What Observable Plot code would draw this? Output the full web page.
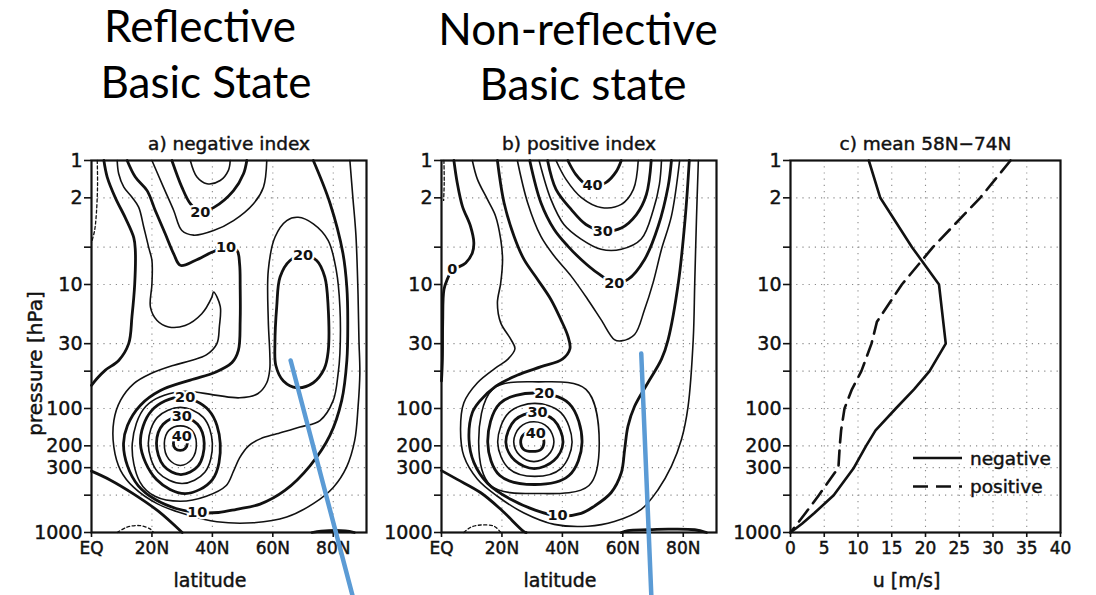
<!DOCTYPE html>
<html>
<head>
<meta charset="utf-8">
<script src="https://cdn.jsdelivr.net/npm/d3@7"></script>
<script src="https://cdn.jsdelivr.net/npm/@observablehq/plot@0.6"></script>
<style>
  body { margin: 0; background: #fff; }
  #fig { position: relative; width: 1096px; height: 595px; overflow: hidden; background: #fff; }
  .panel { position: absolute; top: 0; }
  #heads { position: absolute; left: 0; top: 0; }
  /* slightly heavier lettering for the axis tick labels */
  .panel g[aria-label$="tick label"] text { stroke: #111; stroke-width: 0.45px; }
</style>
</head>
<body>
<div id="fig"></div>
<script>
// ---------- axes ----------
const pressureTicks = [1, 2, 5, 10, 30, 50, 100, 200, 300, 500, 1000];
const pressureGrid = [2, 5, 10, 30, 50, 100, 200, 300, 500];
const latitudeTicks = [0, 20, 40, 60, 80];
const latitudeTickLabels = ["EQ", "20N", "40N", "60N", "80N"];
const latitudeGrid = [20, 40, 60, 80];
const speedTicks = [0, 5, 10, 15, 20, 25, 30, 35, 40];
const speedGrid = [5, 10, 15, 20, 25, 30, 35];

// ---------- a) negative index: zonal-mean u contours, [latitude, pressure] ----------
const negM5Top = [[1.9,1],[2.0,1.6],[1.6,2.7],[1.0,3.7],[0,4.6]];
const negM5Sfc = [[8.5,1000],[11.8,905],[16,880],[19.5,940],[20.5,1000]];
const negU0Upper = [[4.1,1],[5.2,1.36],[7.9,2],[11.2,2.9],[14,4.2],[14.5,5.3],[14.3,9.9],[13.4,18],[12.3,30],[9,41],[4.6,49],[1.9,57],[0,65]];
const negU0Lower = [[0,320],[6,375],[14,490],[22,670],[30,1000]];
const negU0Arctic = [[73,1000],[76,975],[84,970],[87,1000]];
const negU5 = [[8.5,1],[9,1.28],[10.7,1.64],[13.4,1.98],[15.6,2.38],[17.3,3.45],[18.9,5],[20,6.4],[20,9.9],[19.5,15.2],[21.7,19.5],[25.5,22],[31,21.4],[36.5,17.2],[39.8,12.7],[40.4,11.5],[42.6,15],[42.3,22],[41.5,30],[38,37],[33,41],[27,45],[19.5,52.5],[14,63],[9.6,86],[7.4,125],[7.4,205],[9.6,315],[14,433],[21.7,585],[31.6,720],[41.5,820],[53.6,835],[64.6,750],[73.4,585],[80,433],[84.4,297],[87.1,181],[88.2,98],[88.8,52],[88.5,28],[88.2,12],[87.5,4],[86.5,2],[85.5,1]];
const negU10 = [[11.8,1],[14.5,1.36],[18.4,1.75],[21.1,2.53],[24.4,3.9],[27.2,5.66],[29.4,7.0],[34.3,6.4],[39.8,5.5],[44.5,5.0],[48.1,5.3],[49,6.8],[49.2,10.5],[49.2,19.5],[48.6,34],[46.5,42.6],[41,51],[32.7,59],[22.8,71.6],[16.2,94],[11.9,137],[10.6,191],[11.9,290],[15.5,420],[21,540],[28,640],[35,690],[42,690],[48,650],[55.8,590],[64,458],[72.3,290],[78.9,165],[82.8,86],[84.5,41],[84.8,19.5],[84.5,10.6],[83.2,5.6],[78.9,2.2],[73.4,1]];
const negU15Top = [[20,1],[23.8,1.64],[27.2,2.53],[29.9,3.67],[33.8,4.0],[40.4,3.67],[47,3.05],[53.6,2.23],[56.9,1.64],[58,1]];
const negU20Top = [[26.6,1],[29.9,1.64],[32.7,2.23],[36,2.6],[40.4,2.4],[47,1.75],[50.3,1.28],[51.4,1]];
const negU25Top = [[32.7,1],[34.9,1.36],[38.2,1.54],[42.6,1.45],[45.3,1.2],[45.9,1]];
const negU20Polar = [[62.4,8.7],[61.3,15],[60.7,30],[61,45],[63.5,60],[68,68],[73.4,62],[77,48],[78.3,35],[78.3,15],[77.2,8.7],[74.5,6.4],[70,5.8],[65.7,6.4]];
const negU15Ring = [[59,36],[58.5,19.5],[58.5,7.7],[60.7,4.16],[64.6,3.05],[68.4,2.87],[73.4,3.24],[78.3,4.4],[81,7.7],[82.2,15.2],[82.2,36],[81.6,52.5],[80,86],[75.6,125],[69,141],[61.3,160],[56,175],[52,200],[49,250],[47,320],[44.5,420],[38,510],[29.4,560],[21,510],[16,390],[13.5,191],[18,96],[29.4,73],[40.9,78],[49,82],[55,76],[58,62],[59,48]];
const negU20Jet = [[16.2,191],[19.9,104],[29.4,81],[38.9,104],[42.6,191],[40,374],[31,485],[21.5,374]];
const negU25Jet = [[18.8,191],[21.8,118],[29.4,98],[37,118],[40,191],[37.5,327],[30,403],[22,327]];
const negU30Jet = [[21.5,191],[23.7,134],[29.4,116],[35.1,134],[37.3,191],[35.3,290],[29.6,341],[23.9,290]];
const negU35Jet = [[24.1,191],[25.6,150],[29.4,138],[33.2,150],[34.7,191],[33.2,257],[29.4,288],[25.6,257]];
const negU40Jet = [[27.1,191],[27.7,171],[29.4,165],[31,171],[31.7,191],[31,210],[29.4,218],[27.7,210]];

const negativeContours = [
  {u: -5, closed: false, pts: negM5Top},
  {u: -5, closed: false, pts: negM5Sfc},
  {u: 0, closed: false, pts: negU0Upper},
  {u: 0, closed: false, pts: negU0Lower},
  {u: 0, closed: false, pts: negU0Arctic},
  {u: 5, closed: false, pts: negU5},
  {u: 10, closed: false, pts: negU10},
  {u: 15, closed: false, pts: negU15Top},
  {u: 20, closed: false, pts: negU20Top},
  {u: 25, closed: false, pts: negU25Top},
  {u: 20, closed: true, pts: negU20Polar},
  {u: 15, closed: true, pts: negU15Ring},
  {u: 20, closed: true, pts: negU20Jet},
  {u: 25, closed: true, pts: negU25Jet},
  {u: 30, closed: true, pts: negU30Jet},
  {u: 35, closed: true, pts: negU35Jet},
  {u: 40, closed: true, pts: negU40Jet}
];
const negativeLabels = [
  {lat: 36, p: 2.6, text: "20"},
  {lat: 44.5, p: 5.0, text: "10"},
  {lat: 70, p: 5.8, text: "20"},
  {lat: 31, p: 81, text: "20"},
  {lat: 29.9, p: 116, text: "30"},
  {lat: 29.9, p: 168, text: "40"},
  {lat: 35, p: 690, text: "10"}
];

// ---------- b) positive index ----------
const posM5Top = [[0.8,1],[0.9,1.5],[0.7,2.1]];
const posM5Sfc = [[7.4,1000],[9.6,910],[13,870],[17.4,890],[19.6,1000]];
const posU0Upper = [[4.1,1],[5.2,1.51],[6.9,2.33],[9.6,3.39],[10.7,4.6],[10.2,5.56],[8,6.7],[5.2,7.3],[3.6,7.6],[1.9,9.1],[0.8,11],[0.4,20],[0.3,40],[0,60]];
const posU0Lower = [[0,317],[5.2,373],[13,478],[19.6,650],[27.3,985],[28,1000]];
const posU0Arctic = [[59.5,1000],[61.7,965],[68.3,950],[75,940],[83.8,950],[87.7,1000]];
const posU5 = [[10.2,1],[11.9,1.42],[15.2,2.06],[17.9,2.81],[19.6,4.33],[20.2,6.28],[19.6,9.7],[18.5,14.1],[19.6,20.4],[23,27.8],[24.3,33],[22,40],[18.5,46],[11.9,62],[7.4,90],[6.3,147],[7.4,242],[11.9,372],[18.5,510],[27.3,696],[37.3,860],[48.4,890],[57.2,815],[66.1,650],[71.7,450],[76.1,292],[79.4,178],[81.6,96],[83.3,27.8],[83.8,9.7],[84.4,2.8],[85,1]];
const posU10 = [[18.5,1],[20.7,2.19],[24,4.08],[27.3,6.28],[31.8,9.1],[36.2,13.2],[39.5,19.2],[41.8,26],[42.5,33],[40,40],[33,46],[25,54],[18,66],[12.5,88],[10.2,108],[9.1,178],[10.7,272],[15.2,400],[22.9,540],[31,660],[38.4,734],[46.2,700],[50.6,612],[56.1,478],[59.5,330],[60.6,215],[61.7,139],[63.9,96],[68.3,62],[72.8,40],[75,27.8],[78.4,9.6],[80.7,2.8],[82,1]];
const posU15Top = [[25.1,1],[28.5,2.19],[32.9,4.1],[37.3,5.9],[42.9,8.56],[48.4,13.2],[52.8,19.2],[57.2,27.8],[59.5,28.5],[63.9,25.3],[67.2,15.9],[70,9.7],[72.8,5.2],[76.1,2.8],[78.8,1]];
const posU20Top = [[29.2,1],[32.9,2.19],[37.3,3.6],[41.8,4.9],[46.2,6.28],[51.7,8.1],[57.2,9.7],[61.7,9.1],[67.2,6.28],[71.7,3.39],[75,1.61],[76.1,1]];
const posU25Top = [[32.3,1],[36.2,2.06],[40.5,3.28],[46.2,4.3],[52.8,5.2],[59.5,5.2],[66.1,4.3],[70.1,2.5],[72.1,1.56],[72.8,1]];
const posU30Top = [[35.1,1],[37.9,1.71],[42.9,2.48],[47.8,3.28],[53.4,3.7],[59.5,3.5],[64.5,2.73],[67.8,1.88],[69.4,1]];
const posU35Top = [[37.9,1],[41.2,1.42],[46.2,1.98],[52.8,2.39],[59.5,2.26],[63.5,1.71],[65.1,1]];
const posU40Top = [[41.8,1],[44.5,1.3],[47.8,1.56],[50.2,1.62],[54.5,1.5],[57.8,1.23],[59.5,1]];
const posU15Jet = [[12.3,188],[16.9,70],[32.2,61],[47.8,70],[52.2,188],[48.8,418],[32.2,485],[16.3,418]];
const posU20Jet = [[15.3,188],[19.3,91],[30.9,75],[42.2,91],[46.5,188],[42.2,347],[30.9,410],[19.3,347]];
const posU25Jet = [[18.6,188],[22.3,108],[30.9,91],[39.5,108],[43.2,188],[39.5,305],[30.9,353],[22.3,305]];
const posU30Jet = [[21.3,188],[24.3,124],[30.7,108],[37.2,124],[40.2,188],[37.2,263],[30.7,305],[24.3,263]];
const posU35Jet = [[23.9,185],[25.9,142],[30.6,128],[35.2,142],[37.2,185],[35.2,239],[30.6,268],[25.9,239]];
const posU40Jet = [[26.2,188],[27.2,162],[30.1,156],[32.9,162],[33.9,188],[32.9,214],[30.1,222],[27.2,214]];

const positiveContours = [
  {u: -5, closed: false, pts: posM5Top},
  {u: -5, closed: false, pts: posM5Sfc},
  {u: 0, closed: false, pts: posU0Upper},
  {u: 0, closed: false, pts: posU0Lower},
  {u: 0, closed: false, pts: posU0Arctic},
  {u: 5, closed: false, pts: posU5},
  {u: 10, closed: false, pts: posU10},
  {u: 15, closed: false, pts: posU15Top},
  {u: 20, closed: false, pts: posU20Top},
  {u: 25, closed: false, pts: posU25Top},
  {u: 30, closed: false, pts: posU30Top},
  {u: 35, closed: false, pts: posU35Top},
  {u: 40, closed: false, pts: posU40Top},
  {u: 15, closed: true, pts: posU15Jet},
  {u: 20, closed: true, pts: posU20Jet},
  {u: 25, closed: true, pts: posU25Jet},
  {u: 30, closed: true, pts: posU30Jet},
  {u: 35, closed: true, pts: posU35Jet},
  {u: 40, closed: true, pts: posU40Jet}
];
const positiveLabels = [
  {lat: 3.6, p: 7.6, text: "0"},
  {lat: 50, p: 1.6, text: "40"},
  {lat: 53.4, p: 3.7, text: "30"},
  {lat: 57.2, p: 9.7, text: "20"},
  {lat: 34, p: 75, text: "20"},
  {lat: 31.8, p: 108, text: "30"},
  {lat: 31.2, p: 158, text: "40"},
  {lat: 38.4, p: 734, text: "10"}
];

// ---------- c) mean 58N-74N profiles ----------
const negativeProfileP = [1, 2, 5, 10, 30, 50, 70, 100, 150, 200, 300, 500, 700, 850, 1000];
const negativeProfileU = [11.6, 13.3, 18, 22, 23, 20.6, 18.3, 15.6, 12.6, 11.2, 9.4, 6.4, 3.5, 1.7, 0];
const positiveProfileP = [1, 2, 5, 10, 20, 30, 50, 70, 100, 150, 200, 300, 500, 700, 1000];
const positiveProfileU = [32.6, 28.1, 21.1, 16.5, 12.8, 12, 10.5, 9.1, 8, 7.5, 7.3, 7.1, 4.2, 2.2, 0];

// ---------- annotation strokes (latitude, pressure) ----------
const markerLineA = [[65.9, 41], [86.8, 3530]];
const markerLineB = [[66.1, 36], [69.5, 3530]];

const FONT = "'DejaVu Sans', sans-serif";
const INK = "#111";
const GRID = {stroke: "#8a8a8a", strokeOpacity: 1, strokeWidth: 1.1, strokeDasharray: "1.2,5"};
const HEAVY = {fill: INK, stroke: INK, strokeWidth: 0.45};

function rows(list, test) {
  return list
    .map((c, i) => ({...c, id: i}))
    .filter(test)
    .flatMap(c => c.pts.map(([lat, p]) => ({lat, p, id: c.id})));
}

function axisMarks(xTicks, xFormat) {
  return [
    Plot.frame({stroke: INK, strokeWidth: 2.2}),
    Plot.axisY(pressureTicks, {tickSize: 7, tickPadding: 2, tickFormat: d => String(d), fontSize: 19, label: null, strokeWidth: 1.6}),
    Plot.axisX(xTicks, {tickSize: 5, tickPadding: 4, tickFormat: xFormat, fontSize: 17, label: null, strokeWidth: 1.6})
  ];
}

function contourPanel({contours, labels, title, marker, yLabel}) {
  const isThick = c => c.u >= 0 && c.u % 10 === 0;
  const lineOpts = (curve, w) => ({x: "lat", y: "p", z: "id", curve, stroke: INK, strokeWidth: w, strokeLinejoin: "round"});
  const marks = [
    Plot.gridX(latitudeGrid, GRID),
    Plot.gridY(pressureGrid, GRID),
    Plot.line(rows(contours, c => c.u < 0), {...lineOpts("catmull-rom", 1.3), strokeDasharray: "3,2.5"}),
    Plot.line(rows(contours, c => c.u >= 0 && !isThick(c) && !c.closed), lineOpts("catmull-rom", 1.6)),
    Plot.line(rows(contours, c => c.u >= 0 && !isThick(c) && c.closed), lineOpts("catmull-rom-closed", 1.6)),
    Plot.line(rows(contours, c => isThick(c) && !c.closed), lineOpts("catmull-rom", 2.8)),
    Plot.line(rows(contours, c => isThick(c) && c.closed), lineOpts("catmull-rom-closed", 2.8)),
    Plot.text(labels, {x: "lat", y: "p", text: "text", fontSize: 14.5, fontWeight: "bold", fill: INK, stroke: "white", strokeWidth: 4.5, paintOrder: "stroke"}),
    ...axisMarks(latitudeTicks, d => latitudeTickLabels[latitudeTicks.indexOf(d)]),
    Plot.text([title], {frameAnchor: "top", lineAnchor: "middle", dy: -16, fontSize: 18.5, ...HEAVY}),
    Plot.text(["latitude"], {frameAnchor: "bottom", dx: -19, dy: 54, fontSize: 19, ...HEAVY})
  ];
  if (yLabel) marks.push(Plot.text([yLabel], {frameAnchor: "left", textAnchor: "middle", rotate: -90, dx: -56, dy: 17, fontSize: 20, ...HEAVY}));
  marks.push(Plot.line(marker, {x: d => d[0], y: d => d[1], stroke: "#5b9bd5", strokeWidth: 4.5}));
  return Plot.plot({
    width: 380, height: 595,
    marginLeft: 91, marginRight: 14, marginTop: 160, marginBottom: 63,
    style: {fontFamily: FONT, fontSize: "18px", background: "transparent", overflow: "visible", color: INK},
    x: {domain: [0, 91]},
    y: {type: "log", domain: [1, 1000], reverse: true},
    marks
  });
}

function profilePanel() {
  const neg = negativeProfileP.map((p, i) => ({p, u: negativeProfileU[i]}));
  const pos = positiveProfileP.map((p, i) => ({p, u: positiveProfileU[i]}));
  return Plot.plot({
    width: 396, height: 595,
    marginLeft: 90, marginRight: 36, marginTop: 160, marginBottom: 63,
    style: {fontFamily: FONT, fontSize: "18px", background: "transparent", overflow: "visible", color: INK},
    x: {domain: [0, 40]},
    y: {type: "log", domain: [1, 1000], reverse: true},
    marks: [
      Plot.gridX(speedGrid, GRID),
      Plot.gridY(pressureGrid, GRID),
      Plot.line(neg, {x: "u", y: "p", stroke: INK, strokeWidth: 2.6, strokeLinejoin: "round"}),
      Plot.line(pos, {x: "u", y: "p", stroke: INK, strokeWidth: 2.6, strokeDasharray: "15,8"}),
      ...axisMarks(speedTicks, d => String(d)),
      Plot.text(["c) mean 58N\u221274N"], {frameAnchor: "top", lineAnchor: "middle", dy: -16, fontSize: 18.5, ...HEAVY}),
      Plot.text(["u [m/s]"], {frameAnchor: "bottom", dx: -19, dy: 54, fontSize: 19, ...HEAVY})
    ]
  });
}

const fig = document.getElementById("fig");
function place(node, left) {
  const wrap = document.createElement("div");
  wrap.className = "panel";
  wrap.style.left = left + "px";
  wrap.appendChild(node);
  fig.appendChild(wrap);
  return node;
}

place(contourPanel({contours: negativeContours, labels: negativeLabels, title: "a) negative index", marker: markerLineA, yLabel: "pressure [hPa]"}), 0);
place(contourPanel({contours: positiveContours, labels: positiveLabels, title: "b) positive index", marker: markerLineB}), 350);
const panelC = place(profilePanel(), 700);

// legend for panel c
const legendItems = [{label: "negative", dash: null}, {label: "positive", dash: "15,8"}];
const lg = d3.select(panelC).append("g").attr("font-family", FONT).attr("font-size", 18.5).attr("text-anchor", "start");
legendItems.forEach((d, i) => {
  const y = 458 + i * 28.5;
  lg.append("line").attr("x1", 213).attr("x2", 262).attr("y1", y).attr("y2", y)
    .attr("stroke", INK).attr("stroke-width", 2.6).attr("stroke-dasharray", d.dash);
  lg.append("text").attr("x", 270).attr("y", y + 6.5).attr("fill", INK)
    .attr("stroke", INK).attr("stroke-width", 0.45).text(d.label);
});

// headings above panels a and b
const heads = d3.select(fig).append("svg").attr("id", "heads").attr("width", 1096).attr("height", 130)
  .attr("font-family", "Lato, 'Open Sans', sans-serif").attr("font-size", 44).attr("text-anchor", "middle");
[["Reflective", 200, 42], ["Basic State", 206, 98], ["Non-reflective", 578, 45], ["Basic state", 583, 100]]
  .forEach(([t, x, y]) => heads.append("text").attr("x", x).attr("y", y).attr("fill", "#000").text(t));
</script>
</body>
</html>
